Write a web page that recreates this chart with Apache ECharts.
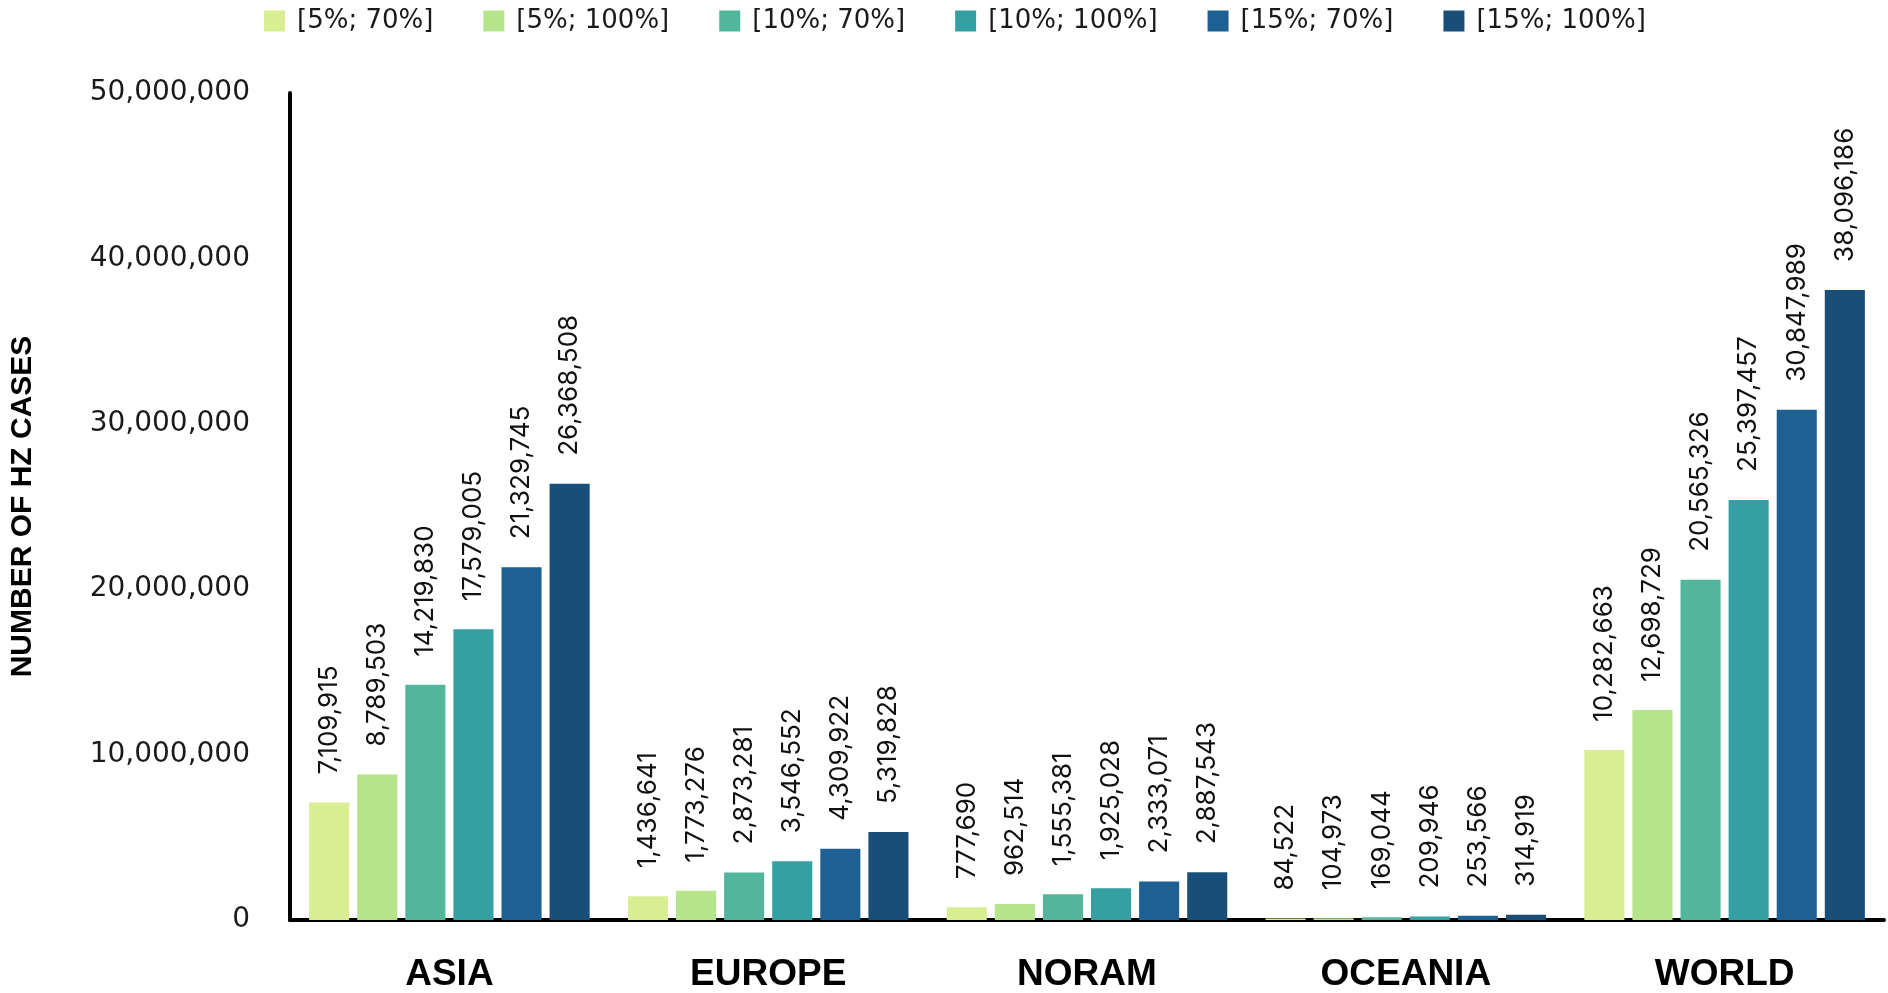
<!DOCTYPE html>
<html>
<head>
<meta charset="utf-8">
<script src="https://cdn.jsdelivr.net/npm/echarts@6/dist/echarts.min.js"></script>
<style>
html,body{margin:0;padding:0;background:#fff;}
#chart{width:1888px;height:993px;}
</style>
</head>
<body>
<div id="chart"></div>
<script>
const categories = ['ASIA', 'EUROPE', 'NORAM', 'OCEANIA', 'WORLD'];
const seriesNames = ['[5%; 70%]', '[5%; 100%]', '[10%; 70%]', '[10%; 100%]', '[15%; 70%]', '[15%; 100%]'];
const s5_70   = [7109915, 1436641, 777690, 84522, 10282663];
const s5_100  = [8789503, 1773276, 962514, 104973, 12698729];
const s10_70  = [14219830, 2873281, 1555381, 169044, 20565326];
const s10_100 = [17579005, 3546552, 1925028, 209946, 25397457];
const s15_70  = [21329745, 4309922, 2333071, 253566, 30847989];
const s15_100 = [26368508, 5319828, 2887543, 314919, 38096186];
const yTicks = [0, 10000000, 20000000, 30000000, 40000000, 50000000];
const yTitle = 'NUMBER OF HZ CASES';

const seriesData = [s5_70, s5_100, s10_70, s10_100, s15_70, s15_100];
const colors = ['#d9ed92', '#b5e48c', '#52b69a', '#34a0a4', '#1e6091', '#184e77'];
const fmt = v => Number(v).toLocaleString('en-US');

const chart = echarts.init(document.getElementById('chart'));
chart.setOption({
  animation: false,
  backgroundColor: '#ffffff',
  color: colors,
  legend: {
    top: 3,
    left: 259,
    itemWidth: 21,
    itemHeight: 21,
    itemGap: 50,
    icon: 'rect',
    textStyle: { fontFamily: 'DejaVu Sans', fontSize: 26, color: '#1a1a1a', padding: [0, 0, 0, 7] },
    data: seriesNames
  },
  grid: { left: 287, right: 4, top: 93, bottom: 67 },
  xAxis: {
    type: 'category',
    data: categories,
    axisLine: { show: true, lineStyle: { color: '#000', width: 4 } },
    axisTick: { show: false },
    axisLabel: {
      margin: 36,
      fontFamily: 'Liberation Sans',
      fontWeight: 'bold',
      fontSize: 37,
      color: '#000'
    }
  },
  yAxis: {
    type: 'value',
    min: yTicks[0],
    max: yTicks[yTicks.length - 1],
    interval: yTicks[1] - yTicks[0],
    name: yTitle,
    nameLocation: 'middle',
    nameRotate: 90,
    nameGap: 252,
    nameTextStyle: { fontFamily: 'Liberation Sans', fontWeight: 'bold', fontSize: 30, color: '#000' },
    axisLine: { show: true, lineStyle: { color: '#000', width: 4 } },
    axisTick: { show: false },
    splitLine: { show: false },
    axisLabel: {
      margin: 40,
      fontFamily: 'DejaVu Sans',
      fontSize: 28,
      color: '#1a1a1a',
      formatter: v => fmt(v)
    }
  },
  series: seriesNames.map((name, i) => ({
    name: name,
    type: 'bar',
    data: seriesData[i],
    barGap: '20%',
    barCategoryGap: '12%',
    itemStyle: { color: colors[i] },
    label: {
      show: true,
      position: 'top',
      rotate: 90,
      align: 'left',
      verticalAlign: 'middle',
      distance: 28,
      fontFamily: 'Inter',
      fontSize: 26,
      color: '#111',
      formatter: p => fmt(p.value)
    }
  }))
});
</script>
</body>
</html>
